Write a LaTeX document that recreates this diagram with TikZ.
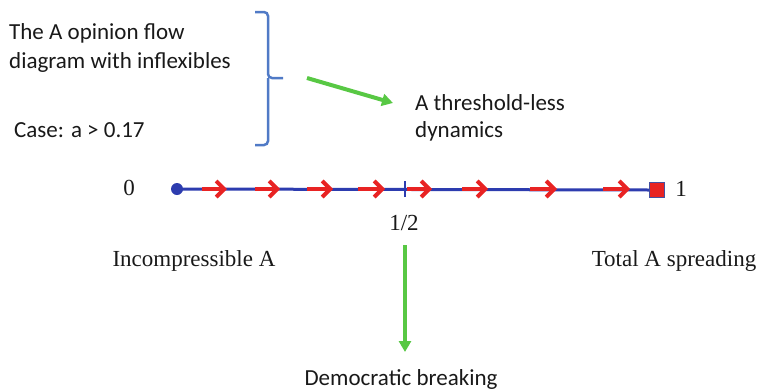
\documentclass[tikz,border=0pt]{standalone}
\usepackage{fontspec}
\setmainfont{Liberation Serif}
\newfontfamily\calib{Carlito}
\usetikzlibrary{arrows.meta}
\definecolor{axisblue}{RGB}{45,60,175}
\definecolor{flowred}{RGB}{232,35,35}
\definecolor{bracketblue}{RGB}{80,122,198}
\definecolor{arrowgreen}{RGB}{88,200,68}
\definecolor{txt}{RGB}{25,25,25}
\begin{document}
\begin{tikzpicture}[x=1pt,y=-1pt,
  sanslabel/.style={font=\calib\fontsize{23}{29}\selectfont, text=txt, inner sep=0pt, align=left},
  seriflabel/.style={font=\fontsize{23}{27}\selectfont, text=txt, inner sep=0pt},
  flowarrow/.style={draw=flowred, line width=4pt,
    -{Straight Barb[length=8pt,width=16pt,line width=4pt]}},
  greenarrow/.style={draw=arrowgreen, line width=4pt,
    -{Triangle[length=11pt,width=12pt]}},
  axisline/.style={draw=axisblue, line width=3pt},
  bracketline/.style={draw=bracketblue, line width=2.5pt, rounded corners=4pt}
]
\useasboundingbox (0,0) rectangle (760,391);

% texts top left
\node[sanslabel, anchor=base west] (title) at (9,68) {The A opinion flow\\diagram with inflexibles};
\node[sanslabel, anchor=base west] (case) at (14,137) {Case: a > 0.17};
\node[sanslabel, anchor=base west, font=\calib\fontsize{23}{27}\selectfont] (thr) at (415,137) {A threshold-less\\dynamics};

% bracket
\coordinate (btop) at (255,12);
\coordinate (bbot) at (255,145);
\coordinate (bmid) at (283,78);
\draw[bracketline] (btop) -- (268,12) -- (268,78) -- (bmid);
\draw[bracketline] (bbot) -- (268,145) -- (268,78);

% green diagonal arrow
\coordinate (gstart) at (307,78);
\coordinate (gend) at (393,103);
\draw[greenarrow] (gstart) -- (gend);

% axis
\node[circle, fill=axisblue, inner sep=0pt, minimum size=12pt] (zero) at (177,189) {};
\node[rectangle, fill=flowred, draw=axisblue!70!gray, line width=1pt, inner sep=0pt, minimum size=15pt] (one) at (657,190) {};
\draw[axisline] (zero.center) -- (one.west);
\coordinate (half) at (405,189);
\draw[draw=axisblue, line width=2pt] ([yshift=-8pt]half) -- ([yshift=8pt]half);

% red flow arrows
\foreach \a/\b in {202/227, 255/280, 307/333, 358/385, 407/432, 462/488, 530/557, 603/630}{
  \draw[flowarrow] (\a,189) -- (\b,189);
}

% axis labels
\node[seriflabel, anchor=base] (lzero) at (129,195) {0};
\node[seriflabel, anchor=base] (lone) at (681,196) {1};
\node[seriflabel, anchor=base] (lhalf) at (404,230) {1/2};
\node[seriflabel, anchor=base] (inc) at (194,266) {Incompressible A};
\node[seriflabel, anchor=base] (tot) at (674,266) {Total A spreading};

% democratic breaking
\node[sanslabel, anchor=base] (dem) at (401,385) {Democratic breaking};
\coordinate (vstart) at (405,245);
\coordinate (vend) at (405,352);
\draw[greenarrow] (vstart) -- (vend);
\end{tikzpicture}
\end{document}
